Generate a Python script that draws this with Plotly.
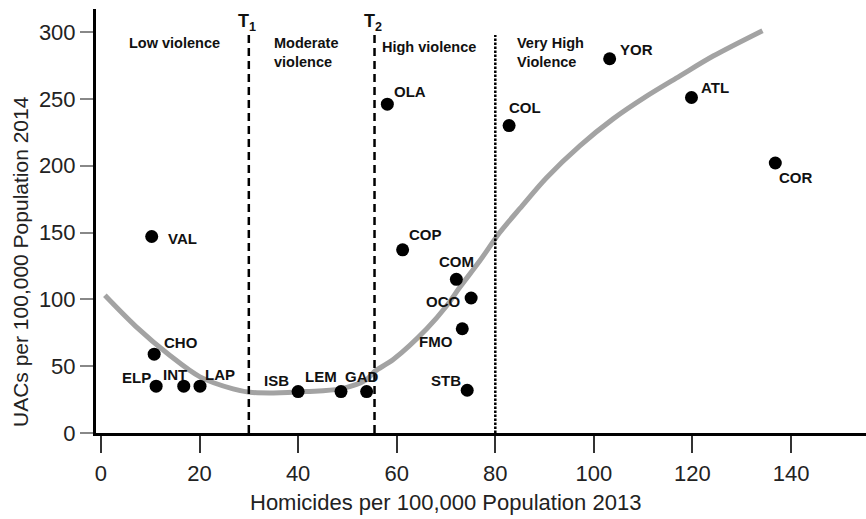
import plotly.graph_objects as go

# ---------------- data ----------------
codes = ["VAL", "CHO", "ELP", "INT", "LAP", "ISB", "LEM", "GAD", "OLA",
         "COP", "COM", "FMO", "STB", "OCO", "COL", "YOR", "ATL", "COR"]
homicides_2013 = [10.3, 10.8, 11.2, 16.8, 20.1, 40.0, 48.7, 53.9, 58.1,
                  61.2, 72.1, 73.3, 74.3, 75.1, 82.8, 103.2, 119.8, 136.8]
uacs_2014 = [147, 59, 35, 35, 35, 31, 31, 31, 246,
             137, 115, 78, 32, 101, 230, 280, 251, 202]

# fitted trend curve
curve_x = [0.8, 7.0, 14.0, 20.1, 26.8, 30.2, 35.0, 41.7, 48.5, 53.9, 55.5,
           59.3, 66.1, 70.1, 72.8, 76.9, 80.9, 85.0, 90.4, 97.2, 103.9,
           110.7, 117.4, 124.2, 134.2]
curve_y = [103, 80, 58, 42, 33, 30.5, 30, 31, 33, 40, 46,
           55, 78, 95, 109, 129, 150, 168, 191, 215, 235,
           252, 267, 282, 301]

thresholds = [30.0, 55.5, 80.0]
threshold_names = ["T<sub>1</sub>", "T<sub>2</sub>", ""]
threshold_dash = ["8px,5px", "8px,5px", "2.5px,1.5px"]

region_names = ["Low violence", "Moderate<br>violence", "High violence",
                "Very High<br>Violence"]

x_ticks = [0, 20, 40, 60, 80, 100, 120, 140]
y_ticks = [0, 50, 100, 150, 200, 250, 300]

x_title = "Homicides per 100,000 Population 2013"
y_title = "UACs per 100,000 Population 2014"

# ---------------- styling / layout positions ----------------
FONT = "Arial, 'Liberation Sans', sans-serif"
W, H = 866, 519
L, R, T, B = 96, 0, 9, 86
plot_h = H - T - B
plot_w = W - L - R

# label placement per point: (xanchor, xshift px, yshift px-down)
label_pos = {
    "VAL": ("left", 14, 2), "CHO": ("left", 8, -12), "ELP": ("right", -3, -9),
    "INT": ("center", -9, -12), "LAP": ("left", 3, -12), "ISB": ("right", -7, -11),
    "LEM": ("right", -2, -15), "GAD": ("center", -5, -15), "OLA": ("left", 5, -13),
    "COP": ("left", 4, -15), "COM": ("center", 0, -18), "FMO": ("right", -7, 13),
    "STB": ("right", -4, -10), "OCO": ("right", -8, 4), "COL": ("left", -2, -18),
    "YOR": ("left", 8, -9), "ATL": ("left", 8, -10), "COR": ("left", 2, 15),
}
region_left_px = [126.7, 271.7, 380, 515]
region_mid_px = [42.7, 52.2, 46.7, 52.2]

def py(px):  # paper y from pixel y
    return (H - B - px) / plot_h

def pxx(px):
    return (px - L) / plot_w

fig = go.Figure()

fig.add_trace(go.Scatter(
    x=curve_x, y=curve_y, mode="lines",
    line=dict(color="#a3a3a3", width=5, shape="spline", smoothing=0.9),
    hoverinfo="skip", showlegend=False))

fig.add_trace(go.Scatter(
    x=homicides_2013, y=uacs_2014, mode="markers",
    marker=dict(color="black", size=13),
    hovertext=codes, hoverinfo="text+x+y", showlegend=False))

annotations = []
for c, xv, yv in zip(codes, homicides_2013, uacs_2014):
    anc, dx, dy = label_pos[c]
    annotations.append(dict(
        x=xv, y=yv, xref="x", yref="y", text="<b>%s</b>" % c, showarrow=False,
        xanchor=anc, yanchor="middle", xshift=dx, yshift=-dy,
        font=dict(family=FONT, size=15, color="#111")))

shapes = []
for xv, name, dash in zip(thresholds, threshold_names, threshold_dash):
    shapes.append(dict(type="line", xref="x", yref="paper", x0=xv, x1=xv,
                       y0=0, y1=py(35), line=dict(color="black", width=2.5, dash=dash)))
    if name:
        annotations.append(dict(
            x=xv, y=py(22), xref="x", yref="paper", text="<b>%s</b>" % name,
            showarrow=False, xanchor="center", yanchor="middle", xshift=-2,
            font=dict(family=FONT, size=18, color="#111")))

for name, lx, ly in zip(region_names, region_left_px, region_mid_px):
    annotations.append(dict(
        x=pxx(lx), y=py(ly), xref="paper", yref="paper",
        text="<b>%s</b>" % name, showarrow=False, xanchor="left", yanchor="middle",
        align="left", font=dict(family=FONT, size=14.5, color="#111")))

annotations.append(dict(
    x=pxx(445), y=py(503), xref="paper", yref="paper", text=x_title, showarrow=False,
    xanchor="center", yanchor="middle", font=dict(family=FONT, size=22, color="#222")))
annotations.append(dict(
    x=pxx(20), y=py(262), xref="paper", yref="paper", text=y_title, showarrow=False,
    textangle=-90, xanchor="center", yanchor="middle",
    font=dict(family=FONT, size=21, color="#222")))

fig.update_layout(
    width=W, height=H, margin=dict(l=L, r=R, t=T, b=B),
    paper_bgcolor="white", plot_bgcolor="white",
    shapes=shapes, annotations=annotations,
    font=dict(family=FONT),
    xaxis=dict(range=[-1.0, 155.2], tickvals=x_ticks, showgrid=False, zeroline=False,
               showline=True, linecolor="black", linewidth=3,
               ticks="outside", ticklen=17, tickwidth=2, tickcolor="#333",
               tickfont=dict(family=FONT, size=22, color="#222"), ticklabelstandoff=2),
    yaxis=dict(range=[0, 317.2], tickvals=y_ticks, showgrid=False, zeroline=False,
               showline=True, linecolor="black", linewidth=3,
               ticks="outside", ticklen=13, tickwidth=1.5, tickcolor="#888",
               tickfont=dict(family=FONT, size=22, color="#222")),
)

fig.write_html("out.html")
